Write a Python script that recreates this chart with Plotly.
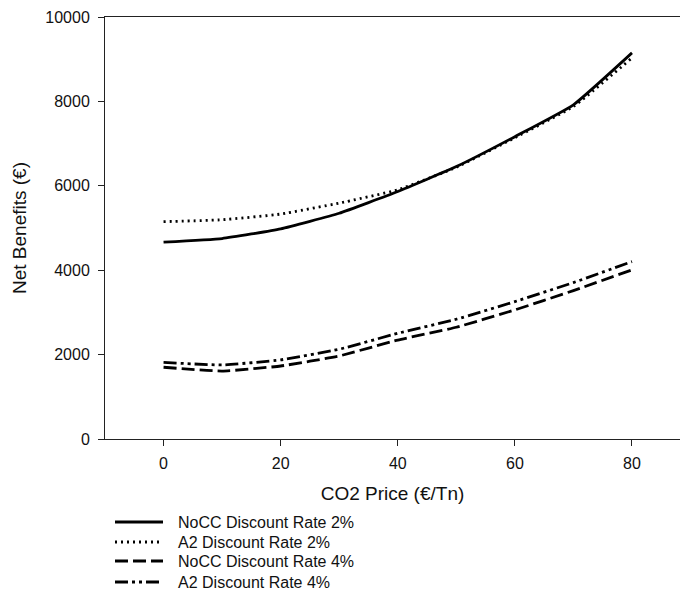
import plotly.graph_objects as go

# ---- data ----
co2_price = [0, 10, 20, 30, 40, 50, 60, 70, 80]
nocc_2 = [4665, 4750, 4980, 5350, 5865, 6455, 7165, 7920, 9150]
a2_2 = [5150, 5195, 5330, 5590, 5905, 6440, 7140, 7880, 9030]
nocc_4 = [1700, 1610, 1730, 1968, 2345, 2648, 3060, 3517, 4008]
a2_4 = [1815, 1755, 1875, 2127, 2505, 2838, 3256, 3707, 4205]

series_names = ["NoCC Discount Rate 2%", "A2 Discount Rate 2%",
                "NoCC Discount Rate 4%", "A2 Discount Rate 4%"]
series_values = [nocc_2, a2_2, nocc_4, a2_4]
series_dash = ["solid", "2px,4px", "13px,5px", "13px,4px,3px,4px,3px,4px"]

x_ticks = [0, 20, 40, 60, 80]
y_ticks = [0, 2000, 4000, 6000, 8000, 10000]
y_tick_labels = ["0", "2000", "4000", "6000", "8000", "10000"]

FONT = "Liberation Sans, Arial, sans-serif"
W, H = 680, 592
ML, MT, MB, MR = 105, 17, 153, 0
plot_w = W - ML - MR
plot_h = H - MT - MB

fig = go.Figure()
for name, vals, dash in zip(series_names, series_values, series_dash):
    fig.add_trace(go.Scatter(
        x=co2_price, y=vals, mode="lines", name=name,
        line=dict(color="black", width=2.8, dash=dash, shape="spline", smoothing=0.4),
        showlegend=False,
    ))

# custom legend below the plot (line sample + text), page pixel rows
leg_rows_px = [522, 542, 561, 582]
for i, (name, dash) in enumerate(zip(series_names, series_dash)):
    py = leg_rows_px[i]
    yp = (H - MB - py) / plot_h
    fig.add_shape(type="line", xref="paper", yref="paper",
                  x0=(115 - ML) / plot_w, x1=(163 - ML) / plot_w, y0=yp, y1=yp,
                  line=dict(color="black", width=2.8, dash=dash))
    fig.add_annotation(xref="paper", yref="paper", x=(176 - ML) / plot_w, y=yp,
                       text=name, showarrow=False, xanchor="left", yanchor="middle",
                       font=dict(family=FONT, size=16, color="#111"))

fig.update_layout(
    width=W, height=H,
    margin=dict(l=ML, r=MR, t=MT, b=MB, pad=0),
    paper_bgcolor="white", plot_bgcolor="white",
    font=dict(family=FONT, color="#111"),
    xaxis=dict(
        range=[-10, 88.2], tickvals=x_ticks, ticks="outside", ticklen=6,
        tickcolor="#222", tickwidth=1, showline=True, linecolor="#222", linewidth=1,
        mirror=True, showgrid=False, zeroline=False, ticklabelstandoff=4,
        tickfont=dict(family=FONT, size=16, color="#111"),
        title=dict(text="CO2 Price (€/Tn)", font=dict(family=FONT, size=19, color="#111"),
                   standoff=15),
    ),
    yaxis=dict(
        range=[0, 10000], tickvals=y_ticks, ticktext=y_tick_labels, ticks="outside", ticklen=6,
        tickcolor="#222", tickwidth=1, showline=True, linecolor="#222", linewidth=1,
        showgrid=False, zeroline=False, ticklabelstandoff=5,
        tickfont=dict(family=FONT, size=16, color="#111"),
        title=dict(text="Net Benefits (€)", font=dict(family=FONT, size=19, color="#111"),
                   standoff=13),
    ),
)

fig.write_html(
    "out.html",
    config={"displayModeBar": False},
    post_script="document.body.style.margin='0';document.body.style.overflow='hidden';",
)
